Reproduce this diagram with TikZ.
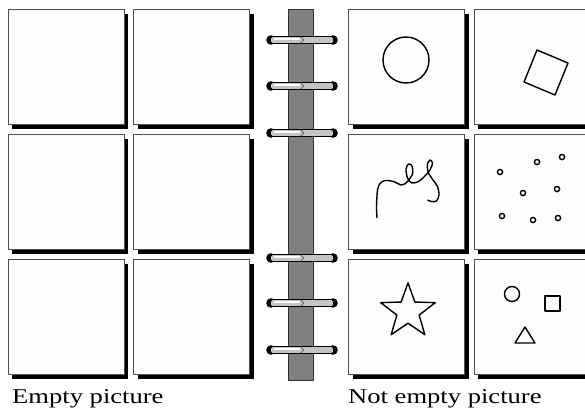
\documentclass[tikz,border=0pt]{standalone}
\usepackage{fontspec}
\setmainfont{Liberation Serif}
\usetikzlibrary{shapes.geometric, shadows}
\definecolor{page}{RGB}{253, 253, 253}
\definecolor{edge}{RGB}{80, 80, 80}
\definecolor{spinegray}{RGB}{128, 128, 128}
\definecolor{ringgray}{RGB}{196, 196, 196}
\tikzset{
    panel/.style={rectangle, draw=edge, fill=page, line width=0.7pt, inner sep=0pt, minimum width=3.48cm, minimum height=3.45cm, drop shadow={fill=black, opacity=1, shadow xshift=0.13cm, shadow yshift=-0.15cm}},
    doodle/.style={draw=black, line width=1.2pt, line join=round},
    caption/.style={anchor=base west, inner sep=0pt, font=\fontsize{18}{20}\selectfont}
}

\begin{document}
\begin{tikzpicture}[x=0.03cm, y=-0.03cm]
        \useasboundingbox (0,0) rectangle (585,410);

        % left page
        \node[panel] (empty1) at (66,66.5) {};
        \node[panel] (empty2) at (191.5,66.5) {};
        \node[panel] (empty3) at (66,191.5) {};
        \node[panel] (empty4) at (191.5,191.5) {};
        \node[panel] (empty5) at (66,316.5) {};
        \node[panel] (empty6) at (191.5,316.5) {};

        % right page
        \node[panel] (full1) at (406.5,66.5) {};
        \node[panel] (full2) at (532,66.5) {};
        \node[panel] (full3) at (406.5,191.5) {};
        \node[panel] (full4) at (532,191.5) {};
        \node[panel] (full5) at (406.5,316.5) {};
        \node[panel] (full6) at (532,316.5) {};

        % binder spine and rings
        \node[rectangle, draw=black!80, fill=spinegray, line width=0.7pt, inner sep=0pt, minimum width=0.75cm, minimum height=11.13cm] (spine) at (300.5,194.5) {};
        \foreach \y in {40,86,133,258,303,350} {
            \fill (271,\y) circle (4.8);
            \fill (333,\y) circle (4.8);
            \draw[fill=ringgray, line width=0.6pt, rounded corners=1.5pt] (270.5,\y-3.5) rectangle (333.5,\y+3.5);
            \draw[white, line width=0.9pt] (274,\y-1) -- (300,\y-1);
            \draw[black!70, line width=0.5pt] (300,\y-3.5) -- (304,\y) -- (300,\y+3.5);
        }

        % drawings
        \draw[doodle] (406,60) circle (23);
        \draw[doodle] (537,50) -- (568,63) -- (555,95) -- (524,82) -- cycle;
        \draw[doodle] plot[smooth, tension=0.5] coordinates {(377,218) (376.5,206.5) (377.5,190) (380,183.5) (385,180.5) (393.5,181.5) (401.5,185) (407,182) (412.5,174) (412,166) (408.5,164) (406,169) (407.5,178) (412,183) (418.5,181.5) (424,177) (430,170) (432.5,163) (430,160) (427.5,164) (428,172) (433,180) (437.5,186.5) (439,195) (436.5,201) (431.5,201.5) (427.5,200)};
        \draw[doodle] (500,172) circle (2.6);
        \draw[doodle] (537,162) circle (2.6);
        \draw[doodle] (562,157) circle (2.6);
        \draw[doodle] (523,193) circle (2.6);
        \draw[doodle] (557,189) circle (2.6);
        \draw[doodle] (502,216) circle (2.6);
        \draw[doodle] (533,220) circle (2.6);
        \draw[doodle] (558,218) circle (2.6);
        \node[star, star points=5, star point ratio=2.45, doodle, inner sep=0pt, minimum size=1.72cm] (star) at (408,311.5) {};
        \draw[doodle] (512,294) circle (7.5);
        \draw[doodle] (545,296) rectangle (560,311);
        \draw[doodle] (515,343) -- (535,343) -- (525,327) -- cycle;

        \node[caption] (leftcap) at (12,403) {\scalebox{1.26}[1]{Empty picture}};
        \node[caption] (rightcap) at (348,403) {\scalebox{1.26}[1]{Not empty picture}};
    \end{tikzpicture}
\end{document}
